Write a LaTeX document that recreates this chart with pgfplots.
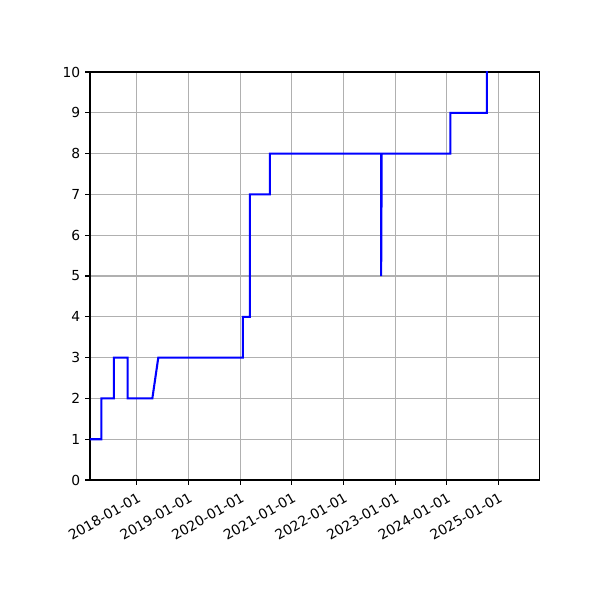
\documentclass[border=0pt]{standalone}
\usepackage{fontspec}
\setmainfont{DejaVu Sans}
\usepackage{pgfplots}
\pgfplotsset{compat=1.18}

% x = days since 2017-01-01
\pgfplotstableread{
day   val
33    1
113   1
113   2
202   2
202   3
299   3
299   2
474   2
516   3
1114  3
1114  4
1164  4
1164  7
1305  7
1305  8
2092  8
2092  5
2096  8
2581  8
2581  9
2840  9
2840  10.5
}\steps

\begin{document}
\begin{tikzpicture}
\begin{axis}[
  scale only axis,
  width=325.2pt, height=294.9pt,
  xmin=33, xmax=3215,
  ymin=0, ymax=10,
  xtick={365,730,1095,1461,1826,2191,2556,2922},
  xticklabels={2018-01-01,2019-01-01,2020-01-01,2021-01-01,2022-01-01,2023-01-01,2024-01-01,2025-01-01},
  ytick={0,1,...,10},
  grid=major,
  grid style={color=black!31, line width=0.8pt},
  axis line style={line width=0.8pt},
  tick style={black, line width=0.8pt},
  tick align=outside,
  major tick length=3.5pt,
  xtick pos=bottom, ytick pos=left,
  /pgf/number format/assume math mode=true,
  ticklabel style={font=\fontsize{10}{12}\selectfont},
  xticklabel style={rotate=30, anchor=north east, inner sep=1pt, yshift=-3pt, xshift=-1.5pt},
  clip=true,
]
\addplot[color=blue, line width=1.5pt, line join=miter] table[x=day, y=val] {\steps};
\end{axis}
\pgfresetboundingbox
\path[use as bounding box] ([xshift=-65.04pt,yshift=-86.72pt]current axis.south west) rectangle ([xshift=43.36pt,yshift=52.03pt]current axis.north east);
\end{tikzpicture}
\end{document}
